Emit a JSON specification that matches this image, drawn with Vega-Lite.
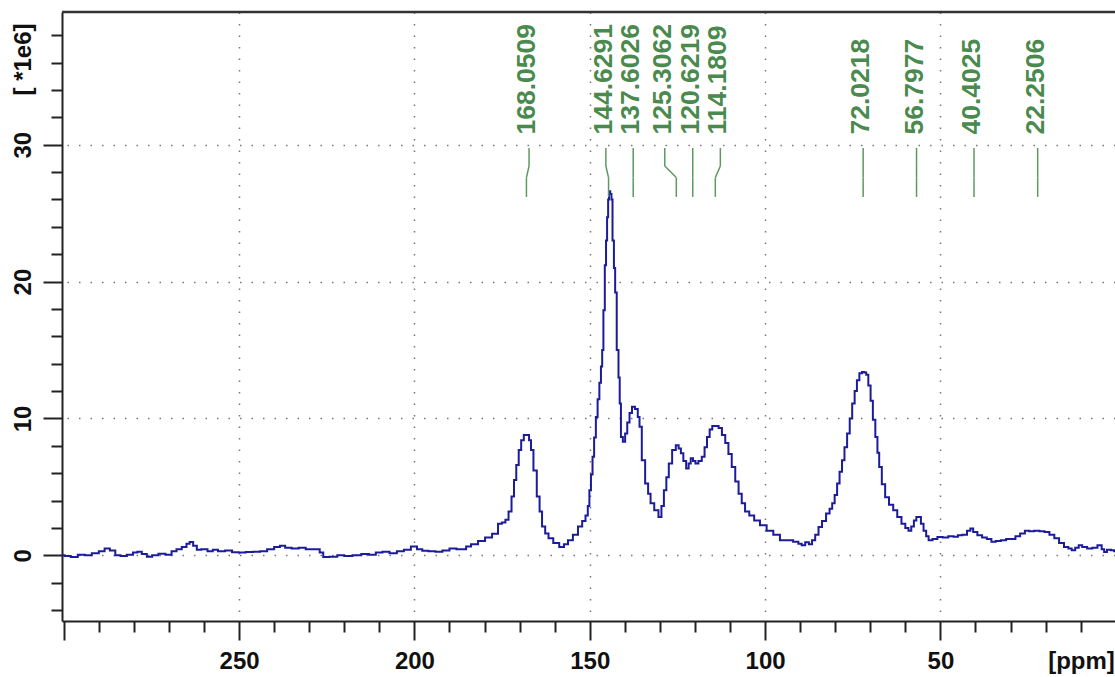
{
  "$schema": "https://vega.github.io/schema/vega-lite/v6.json",
  "autosize": {"type": "none"},
  "padding": {"left": 62, "top": 12, "right": 0, "bottom": 56},
  "width": 1053,
  "height": 609,
  "background": "white",
  "view": {"stroke": null},
  "config": {"font": "Liberation Sans"},
  "resolve": {"axis": {"x": "independent", "y": "independent"}},
  "datasets": {
    "spectrum": [
      {"ppm":300.5,"v":0.0},{"ppm":299,"v":-0.05},{"ppm":297,"v":-0.12},{"ppm":295,"v":0.05},{"ppm":293,"v":0.0},{"ppm":291,"v":0.15},{"ppm":289,"v":0.3},{"ppm":287.7,"v":0.5},{"ppm":286,"v":0.35},{"ppm":284.6,"v":0.0},{"ppm":283,"v":-0.05},{"ppm":281,"v":0.05},{"ppm":279.5,"v":0.2},{"ppm":278.5,"v":0.26},{"ppm":277,"v":0.1},{"ppm":275.6,"v":-0.1},{"ppm":274,"v":0.0},{"ppm":272,"v":0.12},{"ppm":270,"v":0.05},{"ppm":268.5,"v":0.3},{"ppm":267.2,"v":0.44},{"ppm":265.5,"v":0.6},{"ppm":264.5,"v":0.85},{"ppm":263.7,"v":0.97},{"ppm":262.5,"v":0.7},{"ppm":261.6,"v":0.4},{"ppm":260,"v":0.45},{"ppm":258,"v":0.3},{"ppm":257,"v":0.4},{"ppm":255,"v":0.3},{"ppm":253,"v":0.35},{"ppm":251,"v":0.22},{"ppm":249.2,"v":0.2},{"ppm":247,"v":0.25},{"ppm":245,"v":0.26},{"ppm":243,"v":0.3},{"ppm":241,"v":0.45},{"ppm":239,"v":0.6},{"ppm":237.7,"v":0.7},{"ppm":236,"v":0.55},{"ppm":234,"v":0.5},{"ppm":232,"v":0.55},{"ppm":230,"v":0.45},{"ppm":227.5,"v":0.44},{"ppm":226.5,"v":0.2},{"ppm":225.5,"v":-0.13},{"ppm":223,"v":-0.1},{"ppm":221,"v":0.0},{"ppm":219,"v":-0.05},{"ppm":216.3,"v":0.0},{"ppm":214,"v":0.1},{"ppm":212,"v":0.05},{"ppm":210,"v":0.2},{"ppm":208.2,"v":0.26},{"ppm":206,"v":0.15},{"ppm":204,"v":0.3},{"ppm":202,"v":0.4},{"ppm":200,"v":0.65},{"ppm":198.5,"v":0.45},{"ppm":197,"v":0.34},{"ppm":195,"v":0.3},{"ppm":193,"v":0.26},{"ppm":191,"v":0.35},{"ppm":189,"v":0.5},{"ppm":187,"v":0.45},{"ppm":185.8,"v":0.44},{"ppm":184.7,"v":0.65},{"ppm":183,"v":0.8},{"ppm":180.7,"v":1.04},{"ppm":179,"v":1.3},{"ppm":176.7,"v":1.57},{"ppm":175.6,"v":2.3},{"ppm":174.5,"v":2.4},{"ppm":173.6,"v":2.6},{"ppm":172.7,"v":3.2},{"ppm":171.9,"v":4.3},{"ppm":171.3,"v":5.5},{"ppm":170.6,"v":6.6},{"ppm":169.9,"v":7.7},{"ppm":169.2,"v":8.4},{"ppm":168.4,"v":8.8},{"ppm":167.6,"v":8.8},{"ppm":167,"v":8.4},{"ppm":166.5,"v":7.7},{"ppm":165.6,"v":6.2},{"ppm":164.6,"v":4.3},{"ppm":164,"v":3.2},{"ppm":163.2,"v":2.1},{"ppm":162.2,"v":1.6},{"ppm":161.3,"v":1.24},{"ppm":159.5,"v":0.9},{"ppm":157.9,"v":0.6},{"ppm":156.8,"v":0.8},{"ppm":155.6,"v":1.1},{"ppm":154,"v":1.5},{"ppm":152.7,"v":2.1},{"ppm":151.6,"v":2.5},{"ppm":150.8,"v":2.9},{"ppm":150.3,"v":3.6},{"ppm":149.9,"v":4.75},{"ppm":149.4,"v":5.9},{"ppm":149,"v":7.2},{"ppm":148.5,"v":8.6},{"ppm":148,"v":10.1},{"ppm":147.5,"v":11.4},{"ppm":147,"v":12.6},{"ppm":146.6,"v":13.8},{"ppm":146.3,"v":15.0},{"ppm":145.9,"v":17.9},{"ppm":145.5,"v":21.2},{"ppm":145.2,"v":23.0},{"ppm":144.9,"v":24.7},{"ppm":144.6,"v":26.0},{"ppm":144.4,"v":26.6},{"ppm":143.9,"v":26.4},{"ppm":143.7,"v":26.0},{"ppm":143.3,"v":23.0},{"ppm":142.9,"v":21.0},{"ppm":142.6,"v":19.2},{"ppm":142,"v":15.0},{"ppm":141.6,"v":13.0},{"ppm":141.3,"v":11.1},{"ppm":140.9,"v":8.65},{"ppm":140.2,"v":8.3},{"ppm":139.6,"v":8.9},{"ppm":139,"v":9.7},{"ppm":138.3,"v":10.4},{"ppm":137.6,"v":10.85},{"ppm":136.6,"v":10.7},{"ppm":136,"v":10.1},{"ppm":135.6,"v":9.4},{"ppm":134.7,"v":6.95},{"ppm":133.7,"v":5.25},{"ppm":133,"v":4.5},{"ppm":132.3,"v":3.8},{"ppm":130.9,"v":3.3},{"ppm":129.9,"v":2.8},{"ppm":129.2,"v":3.6},{"ppm":128.5,"v":4.75},{"ppm":127.8,"v":5.7},{"ppm":127.1,"v":6.7},{"ppm":125.9,"v":7.7},{"ppm":125,"v":8.05},{"ppm":124.3,"v":7.8},{"ppm":123.7,"v":7.45},{"ppm":122.9,"v":6.9},{"ppm":122.1,"v":6.35},{"ppm":121.5,"v":6.7},{"ppm":120.9,"v":7.1},{"ppm":120.2,"v":6.9},{"ppm":119.5,"v":6.7},{"ppm":118.5,"v":6.9},{"ppm":117.6,"v":7.2},{"ppm":116.9,"v":7.9},{"ppm":116.2,"v":8.65},{"ppm":115.4,"v":9.2},{"ppm":114.7,"v":9.45},{"ppm":113.7,"v":9.45},{"ppm":112.8,"v":9.3},{"ppm":111.8,"v":8.8},{"ppm":110.9,"v":8.2},{"ppm":110,"v":7.4},{"ppm":109,"v":6.45},{"ppm":108,"v":5.4},{"ppm":107.1,"v":4.5},{"ppm":106.2,"v":3.8},{"ppm":105.2,"v":3.2},{"ppm":103.8,"v":2.9},{"ppm":102.4,"v":2.55},{"ppm":100.5,"v":2.2},{"ppm":98.6,"v":1.8},{"ppm":96.7,"v":1.5},{"ppm":94.8,"v":1.1},{"ppm":93,"v":1.1},{"ppm":91,"v":1.0},{"ppm":90,"v":0.85},{"ppm":89.1,"v":0.73},{"ppm":88,"v":0.95},{"ppm":87,"v":0.8},{"ppm":86.2,"v":1.1},{"ppm":85.2,"v":1.5},{"ppm":84.3,"v":2.07},{"ppm":83.2,"v":2.5},{"ppm":82,"v":3.05},{"ppm":81.2,"v":3.4},{"ppm":80.5,"v":3.8},{"ppm":79.8,"v":4.4},{"ppm":79.1,"v":5.25},{"ppm":78.4,"v":6.1},{"ppm":77.7,"v":6.95},{"ppm":77,"v":7.9},{"ppm":76.2,"v":8.9},{"ppm":75.5,"v":10.0},{"ppm":74.8,"v":11.1},{"ppm":74.1,"v":12.0},{"ppm":73.5,"v":12.8},{"ppm":72.7,"v":13.3},{"ppm":72,"v":13.4},{"ppm":71.4,"v":13.35},{"ppm":70.9,"v":13.2},{"ppm":70.2,"v":12.4},{"ppm":69.6,"v":11.3},{"ppm":68.9,"v":9.9},{"ppm":68.2,"v":8.65},{"ppm":67.7,"v":7.5},{"ppm":67.2,"v":6.45},{"ppm":66.2,"v":5.2},{"ppm":65.3,"v":4.25},{"ppm":64,"v":3.7},{"ppm":62.9,"v":3.3},{"ppm":61.7,"v":2.8},{"ppm":60.5,"v":2.3},{"ppm":59.5,"v":2.0},{"ppm":58.7,"v":1.8},{"ppm":57.9,"v":2.1},{"ppm":57.2,"v":2.55},{"ppm":56.5,"v":2.8},{"ppm":55.9,"v":2.8},{"ppm":55.2,"v":2.3},{"ppm":54.4,"v":1.8},{"ppm":53.7,"v":1.4},{"ppm":53,"v":1.1},{"ppm":51.5,"v":1.2},{"ppm":50.2,"v":1.34},{"ppm":48.5,"v":1.3},{"ppm":47,"v":1.4},{"ppm":45.5,"v":1.35},{"ppm":44.5,"v":1.46},{"ppm":43,"v":1.5},{"ppm":41.8,"v":1.8},{"ppm":41.1,"v":1.95},{"ppm":40.2,"v":1.7},{"ppm":38.7,"v":1.46},{"ppm":37.5,"v":1.3},{"ppm":36,"v":1.2},{"ppm":34.9,"v":1.0},{"ppm":33.5,"v":1.05},{"ppm":32,"v":1.1},{"ppm":30.5,"v":1.2},{"ppm":29.2,"v":1.2},{"ppm":28,"v":1.4},{"ppm":26.5,"v":1.6},{"ppm":25.3,"v":1.8},{"ppm":24,"v":1.75},{"ppm":22.5,"v":1.8},{"ppm":21,"v":1.75},{"ppm":19.6,"v":1.7},{"ppm":18.2,"v":1.5},{"ppm":16.8,"v":1.24},{"ppm":15.5,"v":0.9},{"ppm":14,"v":0.6},{"ppm":13,"v":0.5},{"ppm":12.1,"v":0.37},{"ppm":11,"v":0.55},{"ppm":10.1,"v":0.73},{"ppm":9,"v":0.6},{"ppm":7.3,"v":0.49},{"ppm":6,"v":0.55},{"ppm":4.4,"v":0.73},{"ppm":3.6,"v":0.45},{"ppm":3,"v":0.24},{"ppm":2,"v":0.4},{"ppm":0.7,"v":0.37},{"ppm":0.2,"v":0.3}
    ],
    "peaks": [
      {"peak":168.0509,"lab":167.3},
      {"peak":144.6291,"lab":145.4},
      {"peak":137.6026,"lab":137.6026},
      {"peak":125.3062,"lab":128.6},
      {"peak":120.6219,"lab":120.6219},
      {"peak":114.1809,"lab":112.75},
      {"peak":72.0218,"lab":72.0218},
      {"peak":56.7977,"lab":56.7977},
      {"peak":40.4025,"lab":40.4025},
      {"peak":22.2506,"lab":22.2506}
    ]
  },
  "layer": [
    {
      "data": {"name": "spectrum"},
      "mark": {"type": "line", "opacity": 0},
      "encoding": {
        "x": {
          "field": "ppm", "type": "quantitative",
          "scale": {"domain": [0.2, 300.5], "reverse": true, "nice": false, "zero": false},
          "axis": {
            "orient": "bottom",
            "values": [290,280,270,260,240,230,220,210,190,180,170,160,140,130,120,110,90,80,70,60,40,30,20,10],
            "labels": false, "grid": false, "domain": false, "title": null,
            "tickSize": 11, "tickColor": "#222", "tickWidth": 2
          }
        },
        "y": {
          "field": "v", "type": "quantitative",
          "scale": {"domain": [-4.8, 39.7], "nice": false, "zero": false},
          "axis": {
            "orient": "left",
            "values": [-4,-2,2,4,6,8,12,14,16,18,22,24,26,28,32,34,36,38],
            "labels": false, "grid": false, "domain": false, "title": null,
            "tickSize": 11, "tickColor": "#222", "tickWidth": 2
          }
        }
      }
    },
    {
      "data": {"name": "spectrum"},
      "mark": {"type": "line", "color": "#1c1c9a", "strokeWidth": 2, "interpolate": "step"},
      "encoding": {
        "x": {
          "field": "ppm", "type": "quantitative",
          "axis": {
            "orient": "bottom",
            "values": [300,250,200,150,100,50],
            "labelExpr": "datum.value < 300 ? datum.label : ''",
            "labelOverlap": false, "labelFlush": false,
            "labelFont": "Liberation Sans", "labelFontSize": 24, "labelFontWeight": "bold", "labelColor": "#111",
            "labelBaseline": "alphabetic", "labelPadding": 28,
            "tickSize": 19, "tickColor": "#222", "tickWidth": 2,
            "domainColor": "#222", "domainWidth": 2,
            "grid": true,
            "gridOpacity": {"condition": {"test": "datum.value < 300", "value": 1}, "value": 0},
            "gridColor": "#777", "gridWidth": 1.5, "gridDash": [1.5, 10],
            "title": "[ppm]", "titleFont": "Liberation Sans", "titleFontSize": 24, "titleFontWeight": "bold", "titleColor": "#111",
            "titleX": 1019, "titleY": 47, "titleAlign": "center", "titleBaseline": "alphabetic", "titleAngle": 0
          }
        },
        "y": {
          "field": "v", "type": "quantitative",
          "axis": {
            "orient": "left",
            "values": [0,10,20,30],
            "labelOverlap": false, "labelFlush": false,
            "labelFont": "Liberation Sans", "labelFontSize": 24, "labelFontWeight": "bold", "labelColor": "#111",
            "labelAngle": 270, "labelAlign": "center", "labelBaseline": "alphabetic", "labelPadding": 13,
            "tickSize": 19, "tickColor": "#222", "tickWidth": 2,
            "domainColor": "#222", "domainWidth": 2,
            "grid": true,
            "gridColor": "#777", "gridWidth": 1.5, "gridDash": [1.5, 10],
            "title": "[ *1e6]", "titleFont": "Liberation Sans", "titleFontSize": 24, "titleFontWeight": "bold", "titleColor": "#111",
            "titleAngle": 270, "titleX": -32, "titleY": 47, "titleAlign": "center", "titleBaseline": "alphabetic"
          }
        }
      }
    },
    {
      "data": {"values": [{}]},
      "mark": {"type": "rule", "color": "#333", "strokeWidth": 2.5},
      "encoding": {"y": {"datum": 39.7, "axis": null}}
    },
    {
      "data": {"name": "peaks"},
      "mark": {"type": "rule", "color": "#5e9962", "strokeWidth": 1.5},
      "encoding": {
        "x": {"field": "lab", "type": "quantitative", "axis": null},
        "y": {"datum": 29.77, "axis": null},
        "y2": {"datum": 28.45}
      }
    },
    {
      "data": {"name": "peaks"},
      "mark": {"type": "rule", "color": "#5e9962", "strokeWidth": 1.5},
      "encoding": {
        "x": {"field": "lab", "type": "quantitative", "axis": null},
        "x2": {"field": "peak"},
        "y": {"datum": 28.45, "axis": null},
        "y2": {"datum": 27.6}
      }
    },
    {
      "data": {"name": "peaks"},
      "mark": {"type": "rule", "color": "#5e9962", "strokeWidth": 1.5},
      "encoding": {
        "x": {"field": "peak", "type": "quantitative", "axis": null},
        "y": {"datum": 27.6, "axis": null},
        "y2": {"datum": 26.19}
      }
    },
    {
      "data": {"name": "peaks"},
      "mark": {"type": "text", "angle": 270, "align": "left", "baseline": "middle", "dy": -2, "font": "Liberation Sans", "fontSize": 26.5, "fontWeight": "bold", "color": "#4a8a4e"},
      "encoding": {
        "x": {"field": "lab", "type": "quantitative", "axis": null},
        "y": {"datum": 30.75, "axis": null},
        "text": {"field": "peak", "type": "quantitative", "format": ".4f"}
      }
    }
  ]
}
